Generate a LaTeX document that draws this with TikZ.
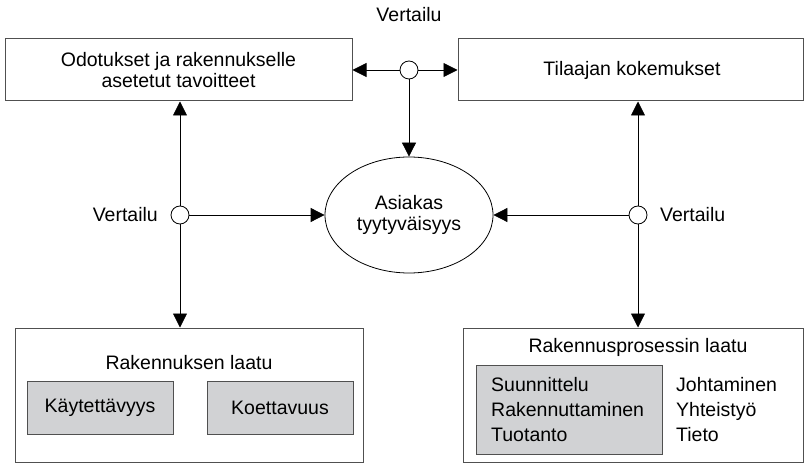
\documentclass[tikz,border=0pt]{standalone}
\usepackage{fontspec}
\setmainfont{Liberation Sans}
\usetikzlibrary{shapes, arrows.meta}

\definecolor{boxgrey}{RGB}{209,210,212}
\definecolor{edgegrey}{RGB}{80,80,80}

\tikzset{
  txt/.style={font=\fontsize{19.5}{21}\selectfont, align=center, inner sep=0pt},
  frame/.style={draw=edgegrey, line width=1pt, inner sep=0pt},
  part/.style={frame, fill=boxgrey},
  joint/.style={circle, draw, fill=white, minimum size=18pt, inner sep=0pt, line width=0.8pt},
  arr/.style={line width=0.8pt, -{Triangle[length=14pt,width=14pt]}}
}

\begin{document}
\begin{tikzpicture}[x=1pt, y=-1pt]
\useasboundingbox (0,0) rectangle (806,465);
% upper boxes
\node[frame, minimum width=347pt, minimum height=62pt] (odo) at (178.5,70) {};
\node[txt] at (odo) {Odotukset ja rakennukselle\\asetetut tavoitteet};
\node[frame, minimum width=345pt, minimum height=62pt] (til) at (630.5,70) {};
\node[txt] at (632,70) {Tilaajan kokemukset};
% satisfaction
\node[ellipse, draw, line width=0.8pt, minimum width=168pt, minimum height=116pt, inner sep=0pt] (sat) at (409,215) {};
\node[txt] at (409,215) {Asiakas\\tyytyväisyys};
% comparison points
\node[joint] (ct) at (409,70) {};
\node[joint] (cl) at (180,215) {};
\node[joint] (cr) at (638,215) {};
\node[txt] (vt) at (409,15) {Vertailu};
\node[txt, anchor=east] (vl) at (158,215) {Vertailu};
\node[txt, anchor=west] (vr) at (660,215) {Vertailu};
% lower boxes
\node[frame, minimum width=348pt, minimum height=134pt] (rak) at (189,395) {};
\node[txt] at (189,363) {Rakennuksen laatu};
\node[part, minimum width=146pt, minimum height=53pt] (kay) at (100,407.5) {};
\node[txt] at (kay) {Käytettävyys};
\node[part, minimum width=146pt, minimum height=53pt] (koe) at (280,407.5) {};
\node[txt] at (koe) {Koettavuus};
\node[frame, minimum width=340pt, minimum height=134pt] (pro) at (633,395) {};
\node[txt] at (638,347) {Rakennusprosessin laatu};
\node[part, minimum width=186pt, minimum height=89pt] (vai) at (569,409.5) {};
\node[txt, anchor=west, align=left, font=\fontsize{19.5}{25}\selectfont] at (491,410) {Suunnittelu\\Rakennuttaminen\\Tuotanto};
\node[txt, anchor=west, align=left, font=\fontsize{19.5}{25}\selectfont] at (676,410) {Johtaminen\\Yhteistyö\\Tieto};
% connectors
\draw[arr] (ct) edge (odo) edge (til) edge (sat);
\draw[arr] (cl) edge (cl |- odo.south) edge (cl |- rak.north) edge (sat);
\draw[arr] (cr) edge (cr |- til.south) edge (cr |- pro.north) edge (sat);
\end{tikzpicture}
\end{document}
